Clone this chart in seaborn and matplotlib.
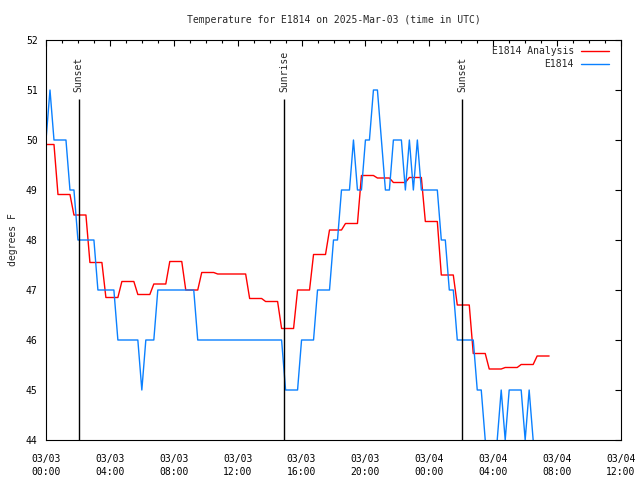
import numpy as np
import pandas as pd
import matplotlib
matplotlib.use("Agg")
import matplotlib.pyplot as plt
import matplotlib.dates as mdates
import seaborn as sns

# observed temperature, 15-min reports (only the points where it changes)
obs_hours = [0, 0.25, 0.5, 1.25, 1.5, 1.75, 2.0, 3.0, 3.25, 4.25, 4.5,
             5.75, 6.0, 6.25, 6.75, 7.0, 9.25, 9.5, 14.75, 15.0, 15.75, 16.0,
             16.75, 17.0, 17.75, 18.0, 18.25, 18.5, 19.0, 19.25, 19.5, 19.75,
             20.0, 20.25, 20.5, 20.75, 21.0, 21.25, 21.5, 21.75, 22.25, 22.5,
             22.75, 23.0, 23.25, 23.5, 24.5, 24.75, 25.0, 25.25, 25.5, 25.75,
             26.75, 27.0, 27.25, 27.5, 27.75, 28.0, 28.25, 28.5, 28.75, 29.0,
             29.75, 30.0, 30.25, 30.5, 30.75, 31.5]
obs_temps = [50, 51, 50, 50, 49, 49, 48, 48, 47, 47, 46,
             46, 45, 46, 46, 47, 47, 46, 46, 45, 45, 46,
             46, 47, 47, 48, 48, 49, 49, 50, 49, 49,
             50, 50, 51, 51, 50, 49, 49, 50, 50, 49,
             50, 49, 50, 49, 49, 48, 48, 47, 47, 46,
             46, 45, 45, 44, 43, 43, 44, 45, 44, 45,
             45, 44, 45, 44, 43, 43]

# hourly analysis values (hour 0 .. 31)
analysis_temps = [49.91, 48.91, 48.50, 47.55, 46.85, 47.17, 46.91, 47.12,
                  47.57, 47.00, 47.35, 47.32, 47.32, 46.83, 46.77, 46.23,
                  47.00, 47.71, 48.20, 48.33, 49.29, 49.24, 49.15, 49.25,
                  48.37, 47.30, 46.70, 45.73, 45.42, 45.45, 45.51, 45.68]

sun_labels = ["Sunset", "Sunrise", "Sunset"]
sun_times = ["2025-03-03 02:03", "2025-03-03 14:55", "2025-03-04 02:04"]

start = pd.Timestamp("2025-03-03 00:00")
end = pd.Timestamp("2025-03-04 12:00")

obs = pd.DataFrame({
    "time": start + pd.to_timedelta(obs_hours, unit="h"),
    "temp": obs_temps,
})

# each hourly analysis value holds from hh-0:15 to hh+0:30
a_hours, a_vals = [], []
for i, v in enumerate(analysis_temps):
    a_hours += [max(i - 0.25, 0), i + 0.5]
    a_vals += [v, v]
ana = pd.DataFrame({
    "time": start + pd.to_timedelta(a_hours, unit="h"),
    "temp": a_vals,
})

sns.set_style("white")
plt.rcParams["font.family"] = ["DejaVu Sans Mono"]
plt.rcParams["font.size"] = 7

fig = plt.figure(figsize=(6.4, 4.8), dpi=100)
ax = fig.add_axes([46 / 640, 40 / 480, 575 / 640, 400 / 480])

sns.lineplot(data=ana, x="time", y="temp", ax=ax, color="#ff0000",
             linewidth=1.0, estimator=None, sort=False, label="E1814 Analysis")
sns.lineplot(data=obs, x="time", y="temp", ax=ax, color="#0a80ff",
             linewidth=1.0, estimator=None, sort=False, label="E1814")

for lab, t in zip(sun_labels, sun_times):
    t = pd.Timestamp(t)
    ax.vlines(t, 44, 50.82, color="black", linewidth=1.0)
    ax.text(t, 50.95, lab, rotation=90, ha="center", va="bottom", fontsize=7)

ax.set_xlim(start, end)
ax.set_ylim(44, 52)
ax.set_yticks(np.arange(44, 53, 1))
ax.xaxis.set_major_locator(mdates.HourLocator(byhour=range(0, 24, 4)))
ax.xaxis.set_minor_locator(mdates.HourLocator())
ax.xaxis.set_major_formatter(mdates.DateFormatter("%m/%d\n%H:%M"))

ax.tick_params(axis="both", which="both", direction="in", top=True, right=True,
               colors="black", labelsize=7)
ax.tick_params(axis="both", which="major", length=4.5, width=0.8)
ax.tick_params(axis="both", which="minor", length=2.5, width=0.8)
ax.tick_params(axis="y", pad=6)
ax.tick_params(axis="x", pad=10)
for lbl in ax.get_xticklabels():
    lbl.set_linespacing(1.45)
for s in ax.spines.values():
    s.set_color("black")
    s.set_linewidth(0.8)

ax.set_xlabel("")
ax.set_ylabel("degrees F", labelpad=6)
ax.set_title("Temperature for E1814 on 2025-Mar-03 (time in UTC)", fontsize=7, pad=12)

ax.legend(loc="upper right", bbox_to_anchor=(0.979, 0.985), frameon=False,
          markerfirst=False, handlelength=2.9, handletextpad=0.7,
          labelspacing=0.35, borderpad=0, borderaxespad=0, fontsize=7)

fig.savefig("out.png", dpi=100)
plt.close(fig)
